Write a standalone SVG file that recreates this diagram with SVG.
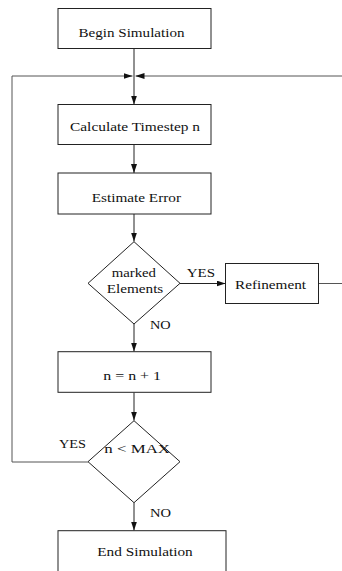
<svg xmlns="http://www.w3.org/2000/svg" width="342" height="571" viewBox="0 0 342 571">
<style>
  .box { fill: #fff; stroke: #222; stroke-width: 1; }
  .t { font-family: "Liberation Serif", "Times New Roman", serif; font-size: 13.5px; fill: #111; }
  .c { fill: none; stroke: #222; stroke-width: 1; }
  .g { fill: none; stroke: #555; stroke-width: 1; }
</style>
<defs>
  <marker id="ah" markerUnits="userSpaceOnUse" markerWidth="9" markerHeight="6" refX="9" refY="3" orient="auto">
    <path d="M0,0 L9,3 L0,6 z" fill="#111"/>
  </marker>
</defs>
<rect width="342" height="571" fill="#fff"/>
<g id="connectors">
  <line class="c" x1="134" y1="48.5" x2="134" y2="104.5" marker-end="url(#ah)"/>
  <line class="g" x1="12" y1="76" x2="132.5" y2="76" marker-end="url(#ah)"/>
  <line class="g" x1="342" y1="76" x2="135.5" y2="76" marker-end="url(#ah)"/>
  <line class="c" x1="134" y1="144.5" x2="134" y2="173" marker-end="url(#ah)"/>
  <line class="c" x1="134" y1="214" x2="134" y2="241.5" marker-end="url(#ah)"/>
  <line class="c" x1="180" y1="283.5" x2="225.5" y2="283.5" marker-end="url(#ah)"/>
  <line class="g" x1="318.5" y1="283.5" x2="342" y2="283.5"/>
  <line class="c" x1="134" y1="324" x2="134" y2="351.5" marker-end="url(#ah)"/>
  <line class="c" x1="134" y1="392.5" x2="134" y2="420.5" marker-end="url(#ah)"/>
  <polyline class="g" points="88,462 12,462 12,76"/>
  <line class="c" x1="134" y1="502.5" x2="134" y2="530.5" marker-end="url(#ah)"/>
</g>
<g id="begin">
  <rect class="box" x="58" y="8.5" width="153" height="40"/>
  <text class="t" x="78.5" y="36.7" textLength="106" lengthAdjust="spacingAndGlyphs">Begin Simulation</text>
</g>
<g id="calc">
  <rect class="box" x="58" y="104.5" width="153" height="40"/>
  <text class="t" x="70" y="130.7" textLength="130" lengthAdjust="spacingAndGlyphs">Calculate Timestep n</text>
</g>
<g id="estimate">
  <rect class="box" x="58" y="173" width="153" height="41"/>
  <text class="t" x="91.7" y="201.5" textLength="89.3" lengthAdjust="spacingAndGlyphs">Estimate Error</text>
</g>
<g id="marked">
  <polygon class="box" points="134,241.7 180,283.3 134,324 88,283.3"/>
  <text class="t" x="111.7" y="276.7" textLength="44.3" lengthAdjust="spacingAndGlyphs">marked</text>
  <text class="t" x="106.7" y="293.3" textLength="56.6" lengthAdjust="spacingAndGlyphs">Elements</text>
  <text class="t" x="186.7" y="276.7" textLength="28.3" lengthAdjust="spacingAndGlyphs">YES</text>
  <text class="t" x="150" y="329" textLength="20.7" lengthAdjust="spacingAndGlyphs">NO</text>
</g>
<g id="refinement">
  <rect class="box" x="225.5" y="263.5" width="93" height="40"/>
  <text class="t" x="235" y="289.3" textLength="71" lengthAdjust="spacingAndGlyphs">Refinement</text>
</g>
<g id="increment">
  <rect class="box" x="58" y="351.7" width="153" height="40.6"/>
  <text class="t" x="103.3" y="380" textLength="57.7" lengthAdjust="spacingAndGlyphs">n = n + 1</text>
</g>
<g id="max">
  <polygon class="box" points="134,420.7 180,461.7 134,502.7 88,461.7"/>
  <text class="t" x="104.3" y="453.3" textLength="65.7" lengthAdjust="spacingAndGlyphs">n &lt; MAX</text>
  <text class="t" x="59" y="448" textLength="27" lengthAdjust="spacingAndGlyphs">YES</text>
  <text class="t" x="150" y="516.7" textLength="21" lengthAdjust="spacingAndGlyphs">NO</text>
</g>
<g id="end">
  <rect class="box" x="58" y="530.7" width="168" height="45"/>
  <text class="t" x="97.3" y="556" textLength="95.4" lengthAdjust="spacingAndGlyphs">End Simulation</text>
</g>
</svg>
